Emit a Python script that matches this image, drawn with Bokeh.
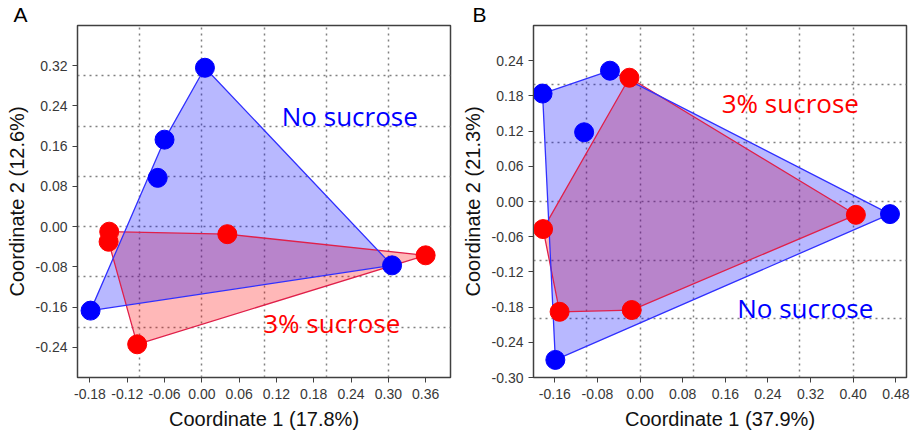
from bokeh.plotting import figure
from bokeh.layouts import row
from bokeh.models import FixedTicker, PrintfTickFormatter, Label
from bokeh.embed import file_html
from bokeh.resources import INLINE

# ---------------- data ----------------
# Panel A
a_nosuc_x = [0.005, -0.060, -0.071, -0.179, 0.306]
a_nosuc_y = [0.316, 0.173, 0.097, -0.167, -0.077]
a_suc_x = [-0.149, -0.150, 0.041, 0.360, -0.104]
a_suc_y = [-0.010, -0.030, -0.015, -0.057, -0.234]
a_xticks = [-0.18, -0.12, -0.06, 0.00, 0.06, 0.12, 0.18, 0.24, 0.30, 0.36]
a_yticks = [-0.24, -0.16, -0.08, 0.00, 0.08, 0.16, 0.24, 0.32]
a_xlabel = "Coordinate 1 (17.8%)"
a_ylabel = "Coordinate 2 (12.6%)"

# Panel B
b_nosuc_x = [-0.0565, -0.183, -0.105, 0.469, -0.159]
b_nosuc_y = [0.223, 0.184, 0.118, -0.0215, -0.270]
b_suc_x = [-0.020, 0.405, -0.182, -0.151, -0.0157]
b_suc_y = [0.211, -0.0227, -0.047, -0.188, -0.185]
b_xticks = [-0.16, -0.08, 0.00, 0.08, 0.16, 0.24, 0.32, 0.40, 0.48]
b_yticks = [-0.30, -0.24, -0.18, -0.12, -0.06, 0.00, 0.06, 0.12, 0.18, 0.24]
b_xlabel = "Coordinate 1 (37.9%)"
b_ylabel = "Coordinate 2 (21.3%)"

grid_x_a = [-0.1, 0.0, 0.1, 0.2, 0.3]
grid_y_a = [-0.2, -0.1, 0.0, 0.1, 0.2, 0.3]
grid_x_b = [-0.1, 0.0, 0.1, 0.2, 0.3, 0.4]
grid_y_b = [-0.2, -0.1, 0.0, 0.1, 0.2]

BLUE = "#0000FF"
RED = "#FF0000"
FONT = "Liberation Sans"


def hull(xs, ys):
    pts = sorted(set(zip(xs, ys)))
    def cross(o, a, b):
        return (a[0] - o[0]) * (b[1] - o[1]) - (a[1] - o[1]) * (b[0] - o[0])
    lower, upper = [], []
    for p in pts:
        while len(lower) >= 2 and cross(lower[-2], lower[-1], p) <= 0:
            lower.pop()
        lower.append(p)
    for p in reversed(pts):
        while len(upper) >= 2 and cross(upper[-2], upper[-1], p) <= 0:
            upper.pop()
        upper.append(p)
    h = lower[:-1] + upper[:-1]
    return [p[0] for p in h], [p[1] for p in h]


def panel(letter, width, xr, yr, bl, br, xticks, yticks, gx, gy, xlabel, ylabel,
          bx, by, rx, ry, title_offset):
    p = figure(width=width, height=432, x_range=xr, y_range=yr,
               min_border_left=bl, min_border_right=br, min_border_top=24,
               min_border_bottom=55, output_backend="svg", toolbar_location=None)
    p.title.text = letter
    p.title.align = "left"
    p.title.offset = title_offset
    p.title.text_font = FONT
    p.title.text_font_size = "21px"
    p.title.text_font_style = "normal"
    p.title.text_color = "#000000"
    p.title.standoff = 0
    p.title.text_line_height = 0.8
    p.outline_line_color = "#404040"
    p.outline_line_width = 1.5
    for ax, ticks, lab, ls, als in ((p.xaxis[0], xticks, xlabel, 6, 6),
                                   (p.yaxis[0], yticks, ylabel, 5, 5)):
        ax.ticker = FixedTicker(ticks=ticks)
        ax.formatter = PrintfTickFormatter(format="%.2f")
        ax.axis_label = lab
        ax.axis_label_text_font = FONT
        ax.axis_label_text_font_size = "20px"
        ax.axis_label_text_font_style = "normal"
        ax.axis_label_text_color = "#111111"
        ax.axis_label_standoff = als
        ax.major_label_text_font = FONT
        ax.major_label_text_font_size = "14px"
        ax.major_label_text_color = "#383838"
        ax.major_label_standoff = ls
        ax.major_tick_in = 0
        ax.major_tick_out = 5
        ax.minor_tick_line_color = None
        ax.axis_line_color = "#404040"
        ax.major_tick_line_color = "#404040"
    p.xgrid.ticker = FixedTicker(ticks=gx)
    p.ygrid.ticker = FixedTicker(ticks=gy)
    for g in (p.xgrid, p.ygrid):
        g.grid_line_color = "#808080"
        g.grid_line_dash = "2 4"
        g.grid_line_width = 1.5

    hbx, hby = hull(bx, by)
    hrx, hry = hull(rx, ry)
    p.patch(hrx, hry, fill_color=RED, fill_alpha=0.28, line_color=None)
    p.patch(hbx, hby, fill_color=BLUE, fill_alpha=0.28, line_color=None)
    p.patch(hrx, hry, fill_color=None, line_color="#E0204A", line_width=1.3)
    p.patch(hbx, hby, fill_color=None, line_color="#3030FF", line_width=1.3)
    p.scatter(rx, ry, size=19, fill_color=RED, line_color=RED)
    p.scatter(bx, by, size=19, fill_color=BLUE, line_color=BLUE)
    return p


pA = panel("A", 456, (-0.2, 0.4), (-0.3, 0.4), 77, 6, a_xticks, a_yticks,
           grid_x_a, grid_y_a, a_xlabel, a_ylabel,
           a_nosuc_x, a_nosuc_y, a_suc_x, a_suc_y, -64)
pB = panel("B", 456, (-0.2, 0.5), (-0.3, 0.3), 77, 6, b_xticks, b_yticks,
           grid_x_b, grid_y_b, b_xlabel, b_ylabel,
           b_nosuc_x, b_nosuc_y, b_suc_x, b_suc_y, -61)

def txt(p, x, y, s, color, size, font):
    p.add_layout(Label(x=x, y=y, text=s, text_color=color, text_font_size=size,
                       text_font=font, text_align="center", text_baseline="middle"))

txt(pA, 0.238, 0.221, "No sucrose", BLUE, "26px", "Open Sans")
txt(pA, 0.209, -0.192, "3% sucrose", RED, "26px", "Open Sans")
txt(pB, 0.282, 0.168, "3% sucrose", RED, "26px", "Open Sans")
txt(pB, 0.310, -0.181, "No sucrose", BLUE, "26px", "Open Sans")

layout = row(pA, pB)
open("out.html", "w").write(file_html(layout, INLINE))
